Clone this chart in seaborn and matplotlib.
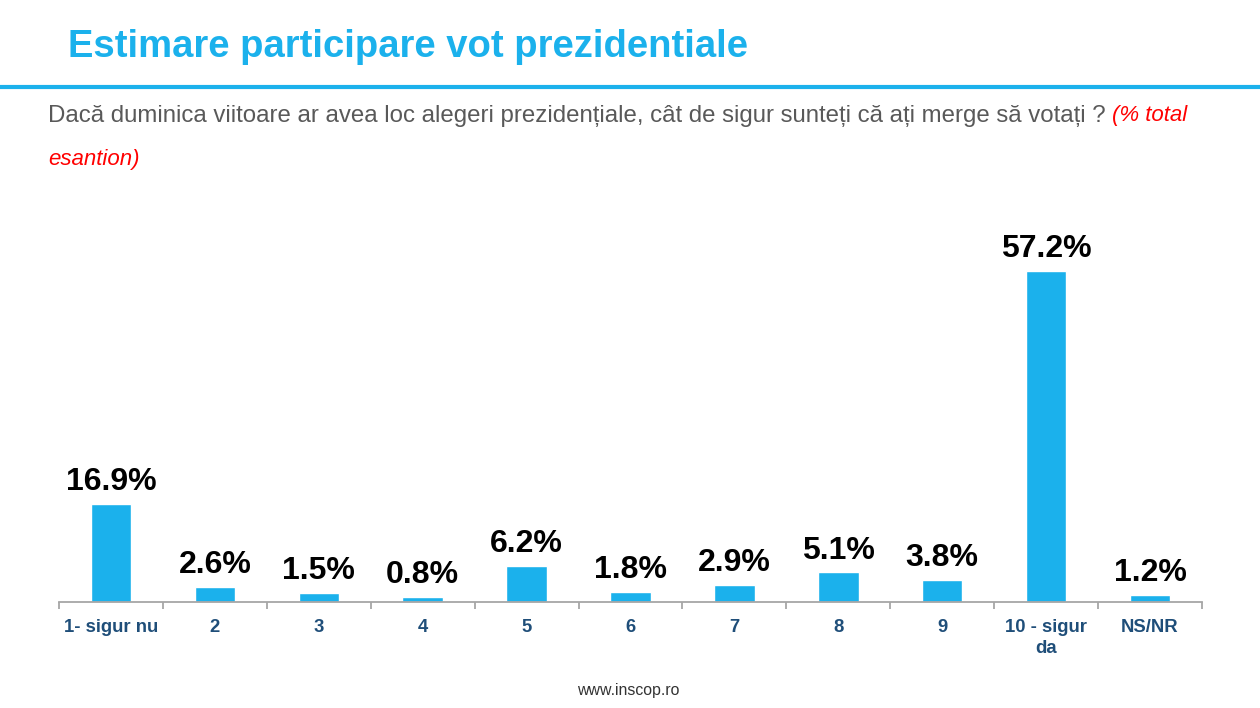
import matplotlib
matplotlib.use("Agg")
import matplotlib.pyplot as plt
import seaborn as sns
import pandas as pd
from matplotlib.ticker import FixedLocator

categories = ["1- sigur nu", "2", "3", "4", "5", "6", "7", "8", "9", "10 - sigur\nda", "NS/NR"]
values = [16.9, 2.6, 1.5, 0.8, 6.2, 1.8, 2.9, 5.1, 3.8, 57.2, 1.2]
labels = ["16.9%", "2.6%", "1.5%", "0.8%", "6.2%", "1.8%", "2.9%", "5.1%", "3.8%", "57.2%", "1.2%"]

title = "Estimare participare vot prezidentiale"
question = "Dacă duminica viitoare ar avea loc alegeri prezidențiale, cât de sigur sunteți că ați merge să votați ? "
note1 = "(% total"
note2 = "esantion)"
footer = "www.inscop.ro"

sns.set_theme(style="white")
plt.rcParams['font.family'] = ['Liberation Sans', 'DejaVu Sans']

BLUE = "#1BB1EC"
df = pd.DataFrame({"cat": categories, "val": values})

fig = plt.figure(figsize=(12.6, 7.08), dpi=100)
ax = fig.add_axes([59/1260, 1-602/708, (1202-59)/1260, 402/708])
sns.barplot(data=df, x="cat", y="val", color=BLUE, width=0.39, ax=ax, saturation=1)
ax.set_xlim(-0.5, len(categories) - 0.5)
ax.set_ylim(0, 69.4)
ax.set_xlabel("")
ax.set_ylabel("")
ax.set_yticks([])
for s in ["top", "right", "left"]:
    ax.spines[s].set_visible(False)
ax.spines["bottom"].set_color("#A6A6A6")
ax.spines["bottom"].set_linewidth(1.3)
ax.tick_params(axis="x", which="major", length=0, pad=12, labelsize=13.3, labelcolor="#1F4E79")
for t in ax.get_xticklabels():
    t.set_fontweight("bold")
    t.set_linespacing(1.3)
ax.xaxis.set_minor_locator(FixedLocator([i - 0.5 for i in range(len(categories) + 1)]))
ax.tick_params(axis="x", which="minor", length=5, width=1.3, color="#A6A6A6", bottom=True)

for i, (v, lab) in enumerate(zip(values, labels)):
    ax.annotate(lab, (i, v), xytext=(0, 5), textcoords="offset points", ha="center", va="bottom",
                fontsize=23, fontweight="bold", color="black")

fig.text(68/1260, 1-47/708, title, fontsize=27.5, fontweight="bold", color=BLUE, va="center", ha="left")
fig.add_artist(plt.Line2D([0, 1], [1-87/708, 1-87/708], color=BLUE, linewidth=3, transform=fig.transFigure))
t1 = fig.text(48/1260, 1-116/708, question, fontsize=17.3, color="#595959", va="center", ha="left")
fig.canvas.draw()
bb = t1.get_window_extent()
fig.text(bb.x1/1260, 1-116/708, note1, fontsize=16, color="#FF0000", style="italic", va="center", ha="left")
fig.text(48/1260, 1-159/708, note2, fontsize=16, color="#FF0000", style="italic", va="center", ha="left")
fig.text(628/1260, 1-691/708, footer, fontsize=11.4, color="#333333", va="center", ha="center")

fig.savefig("out.png", dpi=100)
